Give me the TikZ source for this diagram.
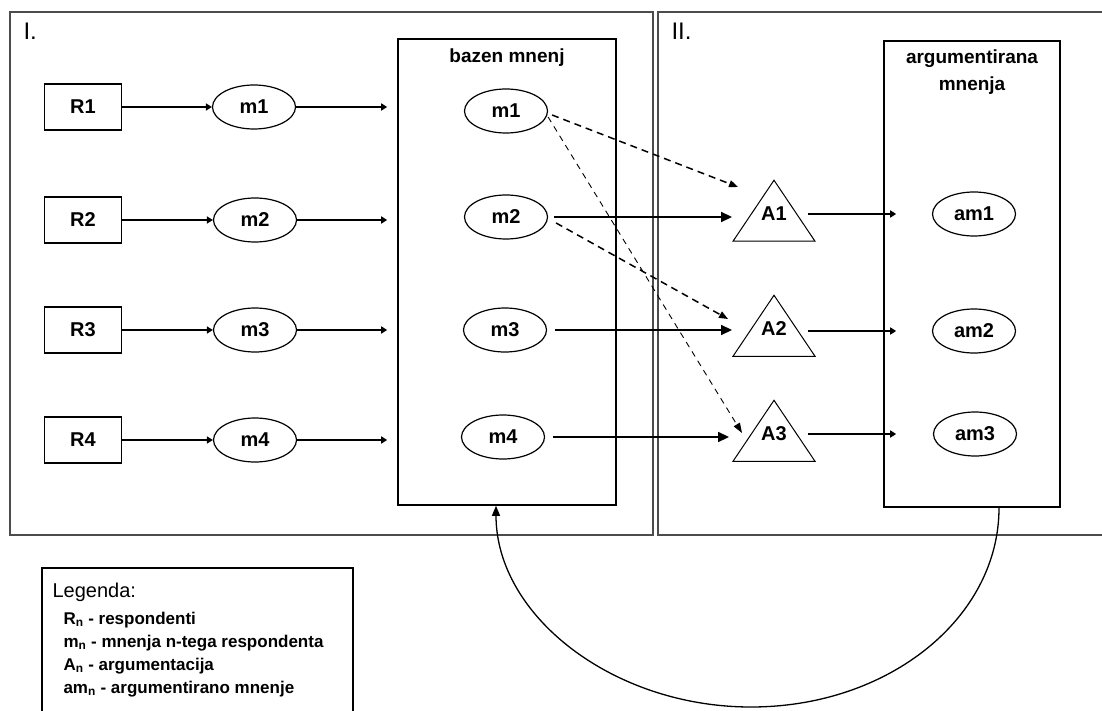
\documentclass[tikz,border=0pt]{standalone}
\usepackage{fontspec}
\setmainfont{Liberation Sans}
\usetikzlibrary{arrows.meta,shapes.geometric}

\begin{document}
\begin{tikzpicture}[x=1pt,y=-1pt,
    resp/.style={draw,line width=1.4pt,minimum width=77pt,minimum height=46pt,inner sep=0pt,font=\fontsize{20}{22}\bfseries},
    mn/.style={draw,ellipse,line width=1.2pt,minimum width=83pt,minimum height=44pt,inner sep=0pt,font=\fontsize{20}{22}\bfseries},
    argum/.style={draw,isosceles triangle,isosceles triangle stretches,shape border rotate=90,minimum width=82pt,minimum height=61pt,inner sep=0pt,line width=1pt,font=\fontsize{19}{22}\bfseries},
    albl/.style={font=\fontsize{20}{22}\bfseries,yshift=10pt},
    pool/.style={draw,line width=1.6pt,minimum width=218pt,minimum height=466pt,inner sep=0pt},
    ttl/.style={font=\fontsize{19}{27}\bfseries,align=center},
    frame/.style={draw=black!70,line width=1.8pt},
    sm/.style={-{Triangle[length=6pt,width=7pt]},line width=1.5pt},
    lg/.style={-{Triangle[length=11pt,width=10pt]},line width=1.6pt},
    ds/.style={-{Triangle[length=9pt,width=7pt]},line width=1.5pt,dash pattern=on 7pt off 5pt},
    dt/.style={-{Triangle[length=10pt,width=7pt]},line width=0.9pt,dash pattern=on 6pt off 5pt},
    leg/.style={anchor=west,font=\fontsize{17}{20}\bfseries}
]
\useasboundingbox (0,0) rectangle (1102,711);

% panels
\draw[frame] (10,12) rectangle (653,535);
\draw[frame] (1102,12) -- (658,12) -- (658,535) -- (1102,535);
\node[anchor=west,font=\fontsize{24}{26}\selectfont] (p1) at (20,31) {I.};
\node[anchor=west,font=\fontsize{24}{26}\selectfont] (p2) at (668,31) {II.};

% pools
\node[pool] (bazen) at (507,272) {};
\node[ttl] (bazenlbl) at (507,58) {bazen mnenj};
\node[pool,minimum width=176pt] (argbox) at (972,274) {};
\node[ttl] (arglbl) at (972,72) {argumentirana\\mnenja};
\coordinate (bzin) at ([xshift=-10pt]bazen.west);
\coordinate (agin) at ([xshift=13pt]argbox.west);

% respondents
\node[resp] (R1) at (83,107) {R1};
\node[resp] (R2) at (83,220) {R2};
\node[resp] (R3) at (83,330) {R3};
\node[resp] (R4) at (83,440) {R4};

\node[mn] (m1) at (254,107) {m1};
\node[mn] (m2) at (255,220) {m2};
\node[mn] (m3) at (255,330) {m3};
\node[mn] (m4) at (255,440) {m4};

\node[mn] (bm1) at (506,111) {m1};
\node[mn] (bm2) at (506,217) {m2};
\node[mn] (bm3) at (505,330) {m3};
\node[mn] (bm4) at (503,437) {m4};

\node[argum,label={[albl]center:A1}] (A1) at (774,224) {\phantom{A1}};
\node[argum,label={[albl]center:A2}] (A2) at (774,339) {\phantom{A2}};
\node[argum,label={[albl]center:A3}] (A3) at (774,444) {\phantom{A3}};

\node[mn] (am1) at (974,214) {am1};
\node[mn] (am2) at (974,331) {am2};
\node[mn] (am3) at (975,434) {am3};

\draw[sm] (R1) -- (m1);
\draw[sm] (R2) -- (m2);
\draw[sm] (R3) -- (m3);
\draw[sm] (R4) -- (m4);
\draw[sm] (m1) -- (m1 -| bzin);
\draw[sm] (m2) -- (m2 -| bzin);
\draw[sm] (m3) -- (m3 -| bzin);
\draw[sm] (m4) -- (m4 -| bzin);

\draw[lg,shorten <=6pt] (bm2.east) -- (bm2 -| A1.left corner);
\draw[lg,shorten <=8pt] (bm3.east) -- (bm3 -| A2.left corner);
\draw[lg,shorten <=8pt] (bm4.east) -- ([xshift=-3pt]bm4 -| A3.left corner);

\draw[ds] ([xshift=4pt,yshift=-4pt]bm1.east) -- ([xshift=-36pt,yshift=37pt]A1.center);
\draw[dt] ([yshift=-6pt]bm1.east) -- ([xshift=-32pt,yshift=11pt]A3.center);
\draw[ds] ([xshift=8pt,yshift=-6pt]bm2.east) -- ([xshift=-46pt,yshift=20pt]A2.center);

\draw[sm,shorten <=4pt] (A1.east |- am1) -- (agin |- am1);
\draw[sm,shorten <=4pt] (A2.east |- am2) -- (agin |- am2);
\draw[sm,shorten <=4pt] (A3.east |- am3) -- (agin |- am3);

% feedback loop
\coordinate (loop) at (751,707);
\draw[-{Triangle[length=10pt,width=8pt]},line width=1.3pt] ([xshift=27pt]argbox.south)
    .. controls +(0,110) and +(138,0) .. (loop)
    .. controls +(-138,0) and +(0,110) .. ([xshift=-11pt]bazen.south);

% legend
\draw[line width=1.4pt] (42,711) -- (42,568) -- (353,568) -- (353,711);
\node[anchor=west,font=\fontsize{20}{22}\selectfont] (legtitle) at (49,592) {Legenda:};
\node[leg] (legR) at (60,620) {R\textsubscript{n} - respondenti};
\node[leg] (legm) at (60,643) {m\textsubscript{n} - mnenja n-tega respondenta};
\node[leg] (legA) at (60,666) {A\textsubscript{n} - argumentacija};
\node[leg] (legam) at (60,689) {am\textsubscript{n} - argumentirano mnenje};
\end{tikzpicture}
\end{document}
